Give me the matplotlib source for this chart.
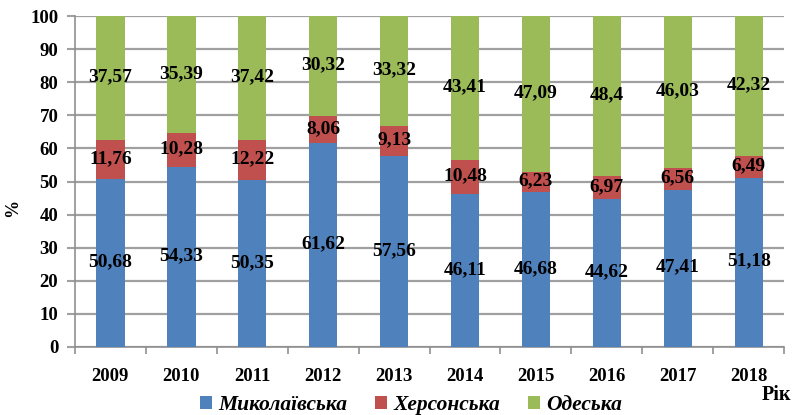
import matplotlib
matplotlib.use("Agg")
import matplotlib.pyplot as plt
import numpy as np

years = ["2009", "2010", "2011", "2012", "2013", "2014", "2015", "2016", "2017", "2018"]
mykolaiv = [50.68, 54.33, 50.35, 61.62, 57.56, 46.11, 46.68, 44.62, 47.41, 51.18]
kherson = [11.76, 10.28, 12.22, 8.06, 9.13, 10.48, 6.23, 6.97, 6.56, 6.49]
odesa = [37.57, 35.39, 37.42, 30.32, 33.32, 43.41, 47.09, 48.4, 46.03, 42.32]
series_names = ["Миколаївська", "Херсонська", "Одеська"]
colors = ["#4F81BD", "#C0504D", "#9BBB59"]

plt.rcParams['font.family'] = ['Liberation Serif', 'DejaVu Serif']
plt.rcParams['font.weight'] = 'bold'

fig = plt.figure(figsize=(8.01, 4.15), dpi=100)
ax = fig.add_axes([0.0936, 0.1639, 0.979 - 0.0936, 0.9614 - 0.1639])

x = np.arange(len(years))
bottom = np.zeros(len(years))
width = 0.4
for vals, name, col in zip([mykolaiv, kherson, odesa], series_names, colors):
    vals = np.array(vals)
    ax.bar(x, vals, width, bottom=bottom, color=col, label=name, zorder=3)
    for xi, b, v in zip(x, bottom, vals):
        lbl = f"{v:g}".replace(".", ",")
        ax.text(xi, b + v / 2 + 0.4, lbl, ha="center", va="center",
                fontsize=14, fontweight="bold", color="black", zorder=4)
    bottom = bottom + vals

ax.set_xlim(-0.5, len(years) - 0.5)
ax.set_ylim(0, 100)
ax.set_yticks(np.arange(0, 101, 10))
ax.set_yticklabels([str(v) for v in range(0, 101, 10)], fontsize=13.5, fontweight="bold")
ax.set_xticks(x)
ax.set_xticklabels(years, fontsize=13.5, fontweight="bold")
ax.tick_params(axis="x", length=0, pad=15)
ax.set_xticks(np.arange(-0.5, len(years), 1), minor=True)
ax.tick_params(axis="x", which="minor", length=5, color="#909090", width=1.2)
ax.tick_params(axis="y", length=6, color="#A0A0A0", width=1.5, pad=6)
ax.grid(axis="y", color="#A0A0A0", linewidth=1.6, zorder=0)
for s in ["top", "right"]:
    ax.spines[s].set_visible(False)
for s in ["left", "bottom"]:
    ax.spines[s].set_color("#909090")
    ax.spines[s].set_linewidth(1.2)

fig.text(0.016, 0.5, "%", rotation=90, ha="center", va="center", fontsize=13, fontweight="bold")
fig.text(0.988, 0.048, "Рік", ha="right", va="center", fontsize=14.5, fontweight="bold")

leg = fig.legend(loc="center", bbox_to_anchor=(0.513, 0.024), ncol=3, frameon=False,
                 prop={"style": "italic", "weight": "bold", "size": 15.5},
                 handlelength=0.55, handleheight=0.55, handletextpad=0.3, columnspacing=1.3)

fig.savefig("out.png", dpi=100)
